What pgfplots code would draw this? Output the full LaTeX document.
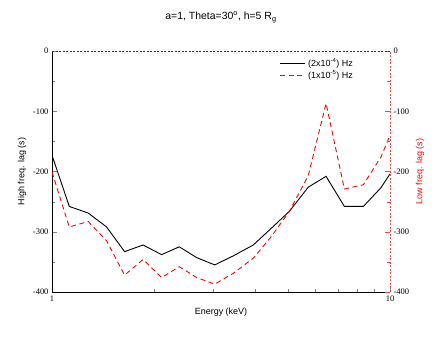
\documentclass[border=0pt]{standalone}
\usepackage{fontspec}
\setmainfont{Liberation Sans}
\newfontfamily\tickfont{Liberation Serif}
\usepackage{pgfplots}
\pgfplotsset{compat=1.18}

\pgfplotsset{
  lagbase/.style={
    width=338bp, height=241bp, scale only axis,
    xmin=1, xmax=10, ymin=-400, ymax=0,
    xtick={1,10}, xticklabels={1,10},
    minor xtick={2,3,4,5,6,7,8,9},
    ytick={-400,-300,-200,-100,0},
    minor ytick={-350,-250,-150,-50},
    tick align=inside,
    major tick length=5bp, minor tick length=3bp,
    /pgf/number format/assume math mode=true,
    tick label style={font=\tickfont\fontsize{8.5}{9}\selectfont},
    label style={font=\fontsize{9}{10}\selectfont},
  },
}

\begin{document}
\begin{tikzpicture}
\begin{semilogxaxis}[
  lagbase, name=ax,
  axis x line*=bottom, axis y line*=left,
  axis line style={black, line width=0.7bp, -},
  xlabel={Energy (keV)},
  ylabel={High freq. lag (s)},
]
  % high frequency range
  \addplot[draw=black, line width=0.9bp] coordinates {
    (1,-173) (1.125,-258) (1.28,-269) (1.45,-292) (1.64,-333)
    (1.86,-322) (2.11,-338) (2.38,-325) (2.68,-343) (3.03,-355)
    (3.44,-340) (3.94,-322) (4.44,-295) (5.04,-266) (5.73,-226)
    (6.47,-208) (7.33,-258) (8.34,-258) (9.40,-227) (10,-204)
  };
  % low frequency range
  \addplot[draw=red, line width=0.9bp, dash pattern=on 5bp off 3.5bp] coordinates {
    (1,-201) (1.125,-292) (1.28,-283) (1.45,-315) (1.64,-372)
    (1.86,-346) (2.11,-376) (2.38,-358) (2.68,-376) (3.03,-387)
    (3.44,-369) (3.94,-344) (4.44,-309) (5.04,-266) (5.73,-207)
    (6.47,-87) (7.33,-229) (8.34,-222) (9.40,-176) (10,-140)
  };
  % legend
  \draw[black, line width=0.9bp] ([xshift=228bp,yshift=-12bp]rel axis cs:0,1) -- ++(25bp,0bp);
  \node[anchor=west, font=\fontsize{9}{10}\selectfont, inner sep=0pt]
    at ([xshift=256bp,yshift=-12bp]rel axis cs:0,1) {(2x10\textsuperscript{-4}) Hz};
  \draw[red, line width=0.9bp, dash pattern=on 5bp off 3.5bp] ([xshift=228bp,yshift=-24bp]rel axis cs:0,1) -- ++(25bp,0bp);
  \node[anchor=west, font=\fontsize{9}{10}\selectfont, inner sep=0pt]
    at ([xshift=256bp,yshift=-24bp]rel axis cs:0,1) {(1x10\textsuperscript{-5}) Hz};
\end{semilogxaxis}
\begin{semilogxaxis}[
  lagbase,
  axis x line=none, axis y line*=right,
  axis line style={red!75, line width=0.5bp, dash pattern=on 2bp off 1.5bp, -},
  y tick style={red!75},
  ylabel={Low freq. lag (s)},
  ylabel style={red},
]
  \addplot[draw=none] coordinates {(1,-200) (10,-200)};
\end{semilogxaxis}
\draw[black!80, line width=0.5bp, dash pattern=on 2bp off 1.5bp] (ax.north west) -- (ax.north east);
\node[font=\fontsize{10.5}{12}\selectfont] at ([yshift=34bp]ax.north) {a=1, Theta=30\textsuperscript{o}, h=5 R\textsubscript{g}};
\pgfresetboundingbox
\path ([xshift=-52bp,yshift=-51bp]ax.south west) rectangle ([xshift=54bp,yshift=51bp]ax.north east);
\end{tikzpicture}
\end{document}
